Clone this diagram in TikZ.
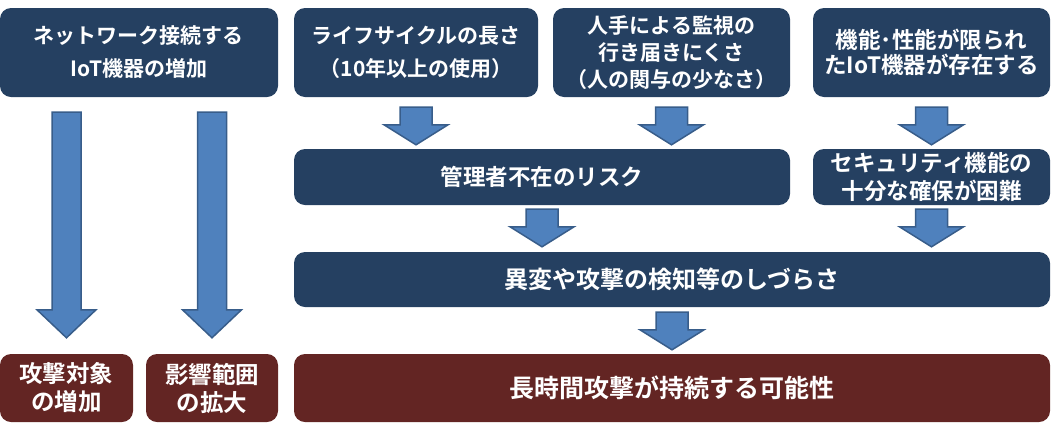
\documentclass[tikz,border=0pt]{standalone}
\usepackage{fontspec}
\setmainfont{Noto Sans CJK JP}[BoldFont={Noto Sans CJK JP Bold}]
\usetikzlibrary{calc}

\definecolor{boxblue}{RGB}{37,64,97}
\definecolor{boxred}{RGB}{99,37,35}
\definecolor{arrfill}{RGB}{79,129,189}
\definecolor{arrline}{RGB}{56,93,138}

\newcommand{\boxfont}[2]{\fontsize{#1}{#2}\selectfont\bfseries}

\tikzset{
  cause/.style={fill=boxblue, text=white, rounded corners=11pt, inner sep=0pt, align=center},
  effect/.style={cause, fill=boxred},
  flowarrow/.style={fill=arrfill, draw=arrline, line width=1.5pt, line join=miter}
}

% block arrow: x ref, top, tip, shaft half width, head half width, head length
\newcommand{\blockarr}[6]{%
  \path[flowarrow] let \p1=#1, \p2=#2, \p3=#3 in
    (\x1-#4,\y2) -- (\x1+#4,\y2) -- (\x1+#4,\y3+#6) -- (\x1+#5,\y3+#6)
    -- (\x1,\y3) -- (\x1-#5,\y3+#6) -- (\x1-#4,\y3+#6) -- cycle;}

\begin{document}
\begin{tikzpicture}[x=1pt, y=-1pt]
        \useasboundingbox (0,0) rectangle (1058,432);

        % top row
        \node[cause, minimum width=278pt, minimum height=89pt, font=\boxfont{21}{33}] (netdev) at (139,52.5) {ネットワーク接続する\\IoT機器の増加};
        \node[cause, minimum width=244pt, minimum height=89pt, font=\boxfont{21}{33}] (life) at (416,52.5) {ライフサイクルの長さ\\（10年以上の使用）};
        \node[cause, minimum width=237pt, minimum height=89pt, font=\boxfont{21}{27}] (watch) at (671.5,52.5) {人手による監視の\\行き届きにくさ\\（人の関与の少なさ）};
        \node[cause, minimum width=237pt, minimum height=89pt, font=\boxfont{22.5}{25}] (limit) at (931.5,52.5) {機能･性能が限られ\\たIoT機器が存在する};

        % middle rows
        \node[cause, minimum width=496pt, minimum height=56pt, font=\boxfont{22.5}{28}] (nomgr) at (542,177) {管理者不在のリスク};
        \node[cause, minimum width=237pt, minimum height=56pt, font=\boxfont{22.5}{28}] (secfn) at (931.5,177) {セキュリティ機能の\\十分な確保が困難};
        \node[cause, minimum width=756pt, minimum height=55pt, font=\boxfont{24}{28}] (detect) at (672,279.5) {異変や攻撃の検知等のしづらさ};

        % results
        \node[effect, minimum width=133pt, minimum height=68pt, font=\boxfont{23.5}{28}] (target) at (66.5,388) {攻撃対象\\の増加};
        \node[effect, minimum width=132pt, minimum height=68pt, font=\boxfont{23.5}{28}] (impact) at (212,388) {影響範囲\\の拡大};
        \node[effect, minimum width=756pt, minimum height=68pt, font=\boxfont{25}{28}] (longatk) at (672,388) {長時間攻撃が持続する可能性};

        % arrows
        \blockarr{(target.north)}{([yshift=-15pt]netdev.south)}{([yshift=16pt]target.north)}{14.5pt}{29.5pt}{28pt}
        \blockarr{(impact.north)}{([yshift=-15pt]netdev.south)}{([yshift=16pt]impact.north)}{14.5pt}{29.5pt}{28pt}
        \blockarr{(life.south)}{([yshift=-10pt]life.south)}{([yshift=4pt]nomgr.north)}{16pt}{32pt}{20pt}
        \blockarr{(watch.south)}{([yshift=-10pt]watch.south)}{([yshift=4pt]nomgr.north)}{16pt}{32pt}{20pt}
        \blockarr{(limit.south)}{([yshift=-10pt]limit.south)}{([yshift=4pt]secfn.north)}{16pt}{32pt}{20pt}
        \blockarr{(nomgr.south)}{([yshift=-4pt]nomgr.south)}{([yshift=5pt]detect.north)}{16pt}{32pt}{20pt}
        \blockarr{(secfn.south)}{([yshift=-4pt]secfn.south)}{([yshift=5pt]detect.north)}{16pt}{32pt}{20pt}
        \blockarr{(detect.south)}{([yshift=-5pt]detect.south)}{([yshift=4pt]longatk.north)}{16pt}{32pt}{20pt}
    \end{tikzpicture}
\end{document}
